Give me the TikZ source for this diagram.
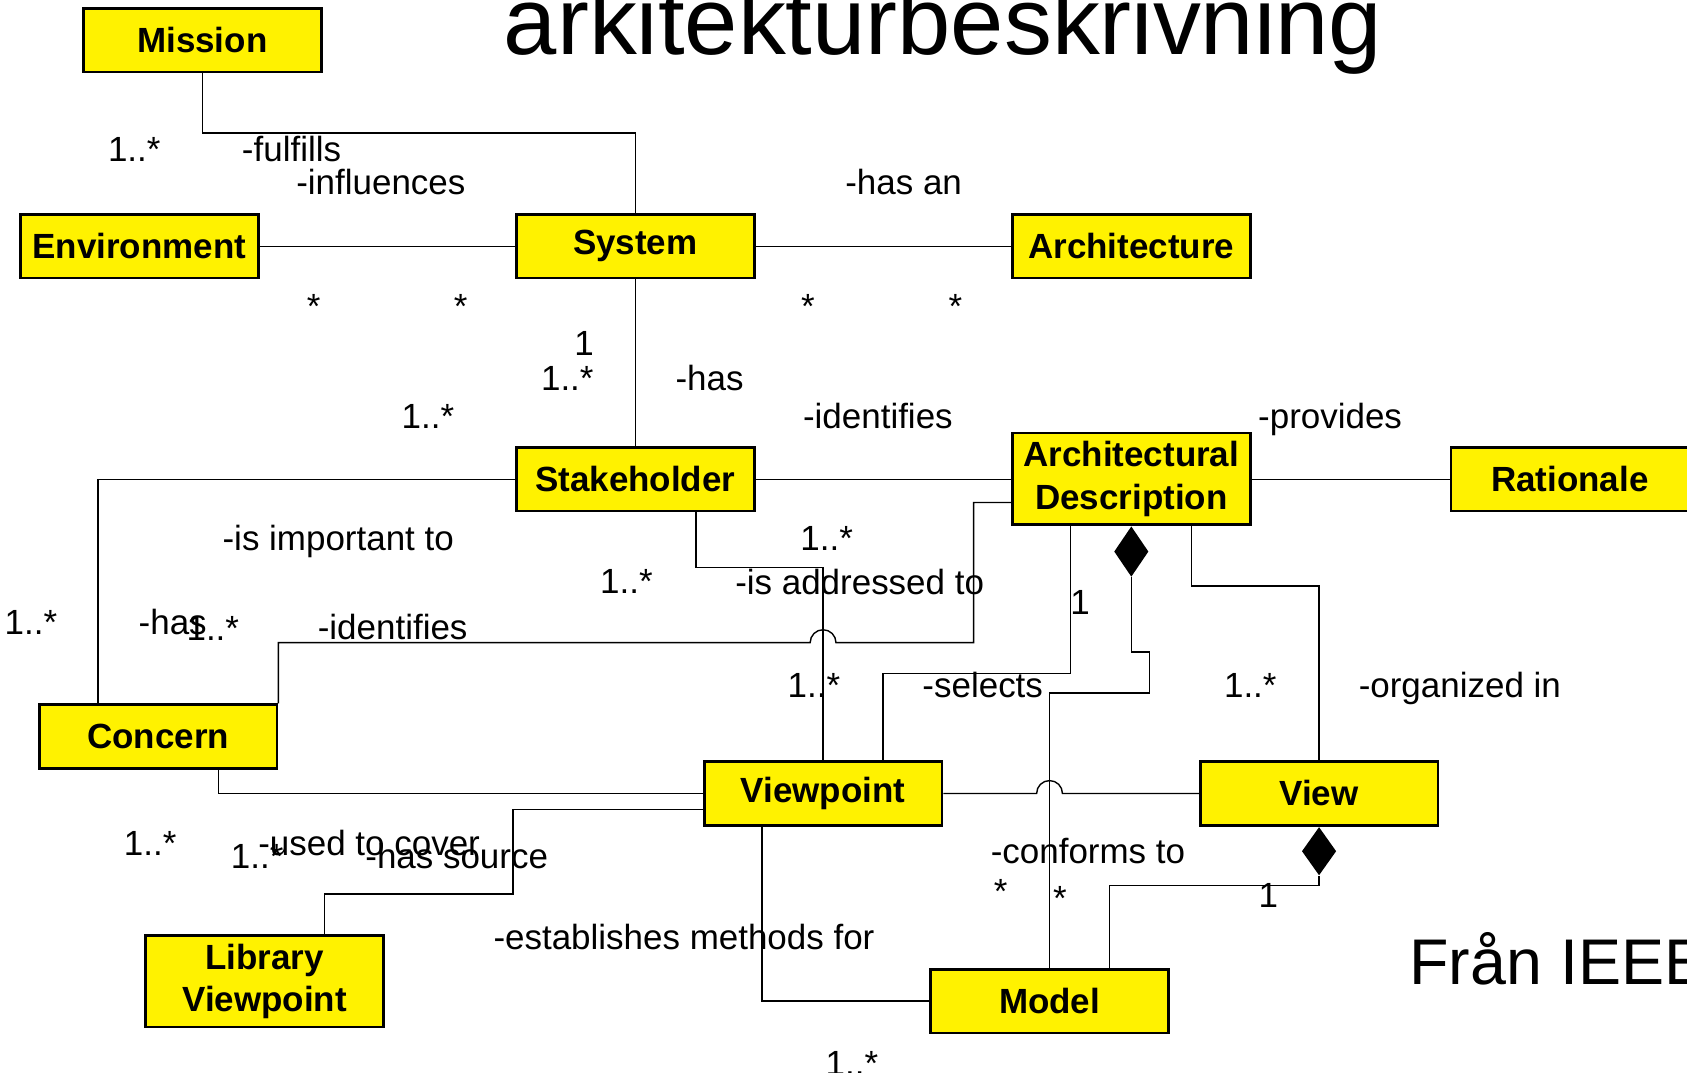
\documentclass[tikz,border=0pt]{standalone}
\usepackage{fontspec}
\setmainfont{Liberation Sans}
\usetikzlibrary{shapes.geometric,calc}
\begin{document}
\begin{tikzpicture}[x=0.5pt,y=-0.5pt,
  cls/.style={draw=black, line width=1.25pt, fill=yellow, minimum width=110.5pt,
    minimum height=29.5pt, inner sep=0pt, align=center,
    font=\fontsize{16.25}{19.75}\selectfont\bfseries},
  cls2/.style={cls, minimum height=42.5pt},
  lbl/.style={inner sep=0pt, anchor=base west, font=\fontsize{16.25}{19.75}\selectfont},
  star/.style={lbl, anchor=base},
  assoc/.style={line width=0.65pt},
  comp/.style={diamond, fill=black, draw=none, minimum width=16pt,
    minimum height=23.5pt, inner sep=0pt},
  jump/.style={}]
\useasboundingbox (0,0) rectangle (1568,997);

% title and source note
\node[lbl, font=\fontsize{44.5}{50}\selectfont] (title) at (468,51) {arkitekturbeskrivning};
\node[lbl, font=\fontsize{30}{36}\selectfont] (source) at (1309.7,915.5) {Från IEEE};

% classes
\node[cls] (mission) at (188,37.5) {Mission};
\node[cls] (environment) at (129.5,229) {Environment};
\node[cls] (system) at (590.5,229) {System};
\node[cls] (architecture) at (1051.5,229) {Architecture};
\node[cls] (stakeholder) at (590.5,445.5) {Stakeholder};
\node[cls2] (archdesc) at (1051.5,445) {Architectural\\Description};
\node[cls] (rationale) at (1459,445.5) {Rationale};
\node[cls] (concern) at (147,684.5) {Concern};
\node[cls] (viewpoint) at (765,737.5) {Viewpoint};
\node[cls] (view) at (1226,737.5) {View};
\node[cls2] (libvp) at (246,912) {Library\\Viewpoint};
\node[cls] (model) at (975.5,930.5) {Model};

% composition diamonds
\node[comp, anchor=north] (adcomp) at (archdesc.south) {};
\node[comp, anchor=north, minimum height=22.5pt] (viewcomp) at (view.south) {};

% associations
\draw[assoc] (mission.south) -- ++(0,55.5) -| (system.north);
\draw[assoc] (environment.east) -- (system.west);
\draw[assoc] (system.east) -- (architecture.west);
\draw[assoc] (system.south) -- (stakeholder.north);
\draw[assoc] (stakeholder.east) -- (stakeholder.east -| archdesc.west);
\draw[assoc] (archdesc.east |- rationale.west) -- (rationale.west);
\draw[assoc] (stakeholder.west) -| ($(concern.north west)+(56,0)$);

\coordinate (idbend) at (905,597.3);
\draw[assoc] (concern.north east) |- ($(viewpoint.north |- idbend)+(-6pt,0)$)
  arc[start angle=180,end angle=0,radius=6pt] -- (idbend)
  |- ($(archdesc.west)+(0,22)$);

\draw[assoc] ($(stakeholder.south east)+(-55.5,0)$) -- ++(0,51.3) -| (viewpoint.north);
\draw[assoc] ($(archdesc.south west)+(55.5,0)$) -- ++(0,137) -| ($(viewpoint.north east)+(-56,0)$);
\draw[assoc] (adcomp.south) -- ++(0,69.5) -- ++(17,0) -- ++(0,38) -| (model.north);
\draw[assoc] ($(archdesc.south east)+(-56,0)$) -- ++(0,56) -| (view.north);
\draw[assoc] (viewpoint.east) -- ($(model.north |- viewpoint.east)+(-6pt,0)$)
  arc[start angle=180,end angle=0,radius=6pt] -- (view.west);
\draw[assoc] (viewcomp.south) -- ++(0,9) -| ($(model.north east)+(-56,0)$);
\draw[assoc] ($(viewpoint.south west)+(55,0)$) |- (model.west);
\draw[assoc] ($(concern.south east)+(-55.5,0)$) |- (viewpoint.west);
\draw[assoc] ($(viewpoint.west)+(0,15)$) -- ++(-176.5,0) -- ++(0,78.3)
  -| ($(libvp.north east)+(-56,0)$);

% role names and multiplicities
\node[lbl] (m1) at (100,150.3) {1..*};
\node[lbl] (r1) at (224.5,150.3) {-fulfills};
\node[lbl] (r2) at (275,181.2) {-influences};
\node[lbl] (r3) at (785.3,181.2) {-has an};
\node[star] (s1) at (291.5,296.3) {*};
\node[star] (s2) at (428.2,296.3) {*};
\node[star] (s3) at (751,296.3) {*};
\node[star] (s4) at (888,296.3) {*};
\node[lbl] (m2) at (533.5,330) {1};
\node[lbl] (m3) at (502.5,363) {1..*};
\node[lbl] (r4) at (627.5,363) {-has};
\node[lbl] (m4) at (373,398) {1..*};
\node[lbl] (r5) at (746,398) {-identifies};
\node[lbl] (r6) at (1169,398) {-provides};
\node[lbl] (r7) at (206.5,511.8) {-is important to};
\node[lbl] (m5) at (743.6,511.2) {1..*};
\node[lbl] (m6) at (557.5,552) {1..*};
\node[lbl] (r8) at (683,552.1) {-is addressed to};
\node[lbl] (m7) at (994.5,570.7) {1};
\node[lbl] (m8) at (4,589.3) {1..*};
\node[lbl] (r9) at (128.5,589.3) {-has};
\node[lbl] (m9) at (173,595.5) {1..*};
\node[lbl] (r10) at (295,594.8) {-identifies};
\node[lbl] (m10) at (731.7,648) {1..*};
\node[lbl] (r11) at (857,648) {-selects};
\node[lbl] (m11) at (1137.3,648.7) {1..*};
\node[lbl] (r12) at (1262.5,648.7) {-organized in};
\node[lbl] (m12) at (114.8,794.7) {1..*};
\node[lbl] (m13) at (214.3,807) {1..*};
\node[lbl] (r13) at (239.7,794.7) {-used to cover};
\node[lbl] (r14) at (339.2,807) {-has source};
\node[lbl] (r15) at (458.3,882.4) {-establishes methods for};
\node[lbl] (r16) at (920.5,803) {-conforms to};
\node[star] (s5) at (930,839.7) {*};
\node[star] (s6) at (985.2,846) {*};
\node[lbl] (m14) at (1169.5,843.3) {1};
\node[lbl] (m15) at (767,999.3) {1..*};
\end{tikzpicture}
\end{document}
